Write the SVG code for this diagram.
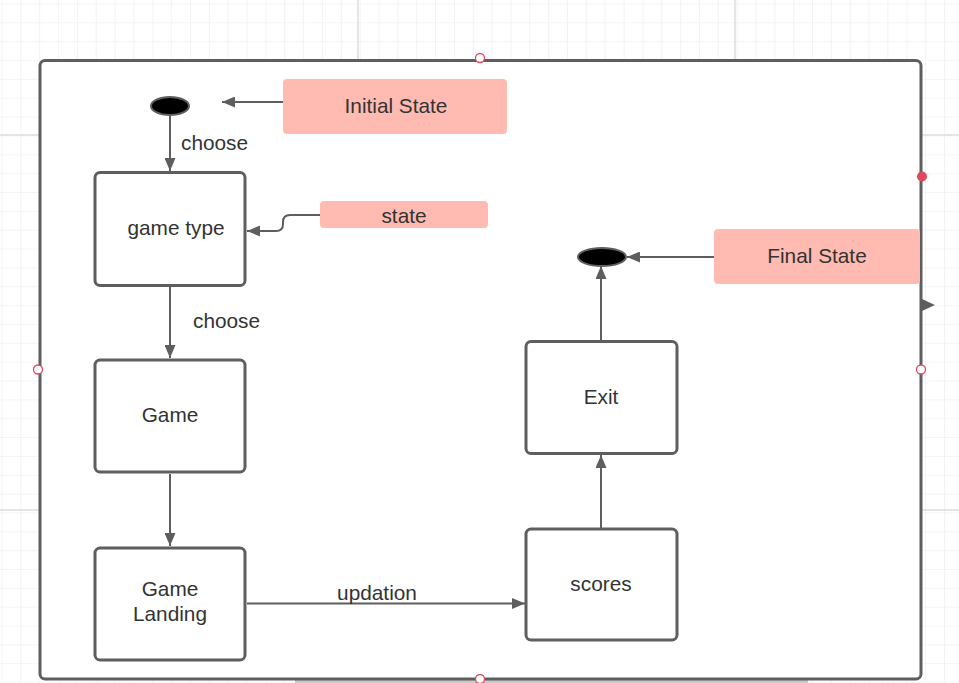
<svg xmlns="http://www.w3.org/2000/svg" width="959" height="683" viewBox="0 0 959 683">
<defs>
<pattern id="minor" width="18.85" height="18.85" patternUnits="userSpaceOnUse" x="1.5" y="3.5">
<path d="M0,0 V18.85 M0,0 H18.85" fill="none" stroke="#ebebeb" stroke-width="1.2"/>
</pattern>
<marker id="arr" viewBox="0 0 13 11" refX="13" refY="5.5" markerWidth="13" markerHeight="11" markerUnits="userSpaceOnUse" orient="auto">
<path d="M0,0 L13,5.5 L0,11 Z" fill="#5e5e5e"/>
</marker>
<style>
.node{fill:#ffffff;stroke:#5e5e5e;stroke-width:3}
.note{fill:#ffbbb1}
.t{font-family:"Liberation Sans",Arial,sans-serif;font-size:20.8px;fill:#333333;text-anchor:middle;dominant-baseline:central}
.lbl{font-family:"Liberation Sans",Arial,sans-serif;font-size:20.8px;fill:#333333}
.c{fill:none;stroke:#5e5e5e;stroke-width:2}
.h{fill:#ffffff;stroke:#e0485c;stroke-width:1.3}
</style>
</defs>
<rect width="959" height="683" fill="#ffffff"/>
<rect width="959" height="683" fill="url(#minor)"/>
<g stroke="#dcdcdc" stroke-width="1.5">
<line x1="358" y1="0" x2="358" y2="683"/>
<line x1="735" y1="0" x2="735" y2="683"/>
<line x1="0" y1="135" x2="959" y2="135"/>
<line x1="0" y1="510" x2="959" y2="510"/>
</g>
<rect x="295" y="680" width="513" height="3" fill="#c8c8c8"/>
<g id="frame">
<rect x="40" y="60.5" width="881" height="618.5" rx="5" fill="#ffffff" stroke="#5e5e5e" stroke-width="3"/>
</g>
<g id="initial">
<ellipse cx="170" cy="106" rx="19" ry="9" fill="#000000" stroke="#5e5e5e" stroke-width="2"/>
</g>
<g id="initial-note">
<rect class="note" x="283" y="79" width="224" height="55" rx="4"/>
<text class="t" x="396" y="105">Initial State</text>
</g>
<g id="game-type">
<rect class="node" x="95" y="172.5" width="150" height="113" rx="5"/>
<text class="t" x="176" y="227">game type</text>
</g>
<g id="state-note">
<rect class="note" x="320" y="201" width="168" height="27" rx="4"/>
<text class="t" x="404" y="215">state</text>
</g>
<g id="game">
<rect class="node" x="95" y="360" width="150" height="112" rx="5"/>
<text class="t" x="170" y="414">Game</text>
</g>
<g id="game-landing">
<rect class="node" x="95" y="548" width="150" height="112" rx="5"/>
<text class="t" x="170" y="588">Game</text>
<text class="t" x="170" y="613">Landing</text>
</g>
<g id="scores">
<rect class="node" x="526" y="529" width="151" height="111" rx="5"/>
<text class="t" x="601" y="583">scores</text>
</g>
<g id="exit">
<rect class="node" x="526" y="341.5" width="151" height="112" rx="5"/>
<text class="t" x="601" y="396">Exit</text>
</g>
<g id="final">
<ellipse cx="602" cy="257" rx="24" ry="9" fill="#000000" stroke="#5e5e5e" stroke-width="2"/>
</g>
<g id="final-note">
<rect class="note" x="714" y="229" width="206" height="55" rx="4"/>
<text class="t" x="817" y="255">Final State</text>
</g>
<g id="connectors">
<path class="c" d="M283,102 H222" marker-end="url(#arr)"/>
<path class="c" d="M170,116 V171" marker-end="url(#arr)"/>
<text class="lbl" x="181" y="150">choose</text>
<path class="c" d="M320,215 H290 Q283,215 283,222 V224 Q283,231 276,231 H247" marker-end="url(#arr)"/>
<path class="c" d="M170,287 V358" marker-end="url(#arr)"/>
<text class="lbl" x="193" y="328">choose</text>
<path class="c" d="M170,474 V546" marker-end="url(#arr)"/>
<path class="c" d="M247,603.5 H525" marker-end="url(#arr)"/>
<text class="t" x="377" y="592">updation</text>
<path class="c" d="M601,528 V455" marker-end="url(#arr)"/>
<path class="c" d="M601,340 V266" marker-end="url(#arr)"/>
<path class="c" d="M714,257 H627" marker-end="url(#arr)"/>
</g>
<g id="handles">
<circle class="h" cx="480" cy="58" r="4.5"/>
<circle class="h" cx="38" cy="369.5" r="4.5"/>
<circle class="h" cx="921" cy="369.5" r="4.5"/>
<circle class="h" cx="480" cy="679" r="4.5"/>
<circle cx="922" cy="176.5" r="5" fill="#e0485c"/>
<path d="M922,299 L935,305 L922,311 Z" fill="#5e5e5e"/>
</g>
</svg>
